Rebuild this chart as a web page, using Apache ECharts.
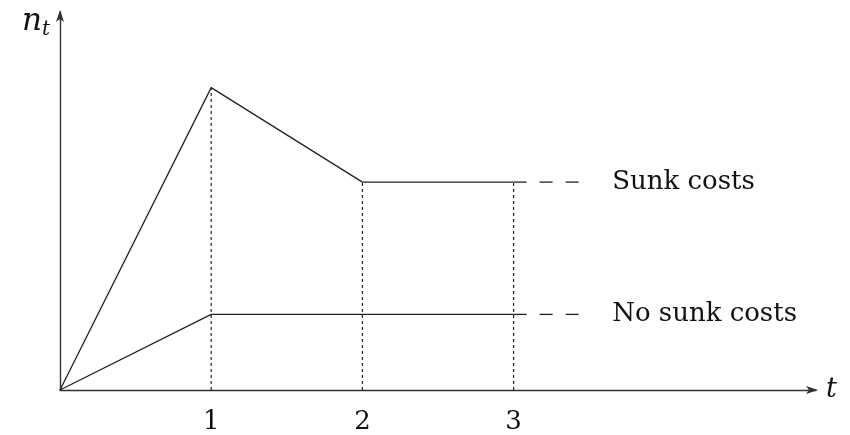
<!DOCTYPE html>
<html><head><meta charset="utf-8">
<script src="https://cdn.jsdelivr.net/npm/echarts@6/dist/echarts.min.js"></script>
<style>html,body{margin:0;padding:0;background:#fff}#c{width:850px;height:435px}</style>
</head><body><div id="c"></div>
<script>
// Data
const tValues = [0, 1, 2, 3];
const sunkCosts = [0, 8, 5.5, 5.5];
const noSunkCosts = [0, 2, 2, 2];
const extendTo = 3.44;          // end of dashed continuation
const tickLabels = ['1', '2', '3'];
const seriesNames = ['Sunk costs', 'No sunk costs'];
const guideTs = [1, 2, 3];
const guideTops = [8, 5.5, 5.5];

const serif = 'DejaVu Serif';
const lineColor = '#222';

function pairs(xs, ys) { return xs.map((x, i) => [x, ys[i]]); }

const series = [];
// vertical dotted guides
guideTs.forEach((t, i) => {
  series.push({
    type: 'line', data: [[t, 0], [t, guideTops[i]]], symbol: 'none', silent: true,
    lineStyle: { color: lineColor, width: 1.2, type: [3, 3] }, z: 1
  });
});
[sunkCosts, noSunkCosts].forEach((ys, k) => {
  series.push({
    type: 'line', name: seriesNames[k], data: pairs(tValues, ys), symbol: 'none',
    lineStyle: { color: lineColor, width: 1.3 }, z: 3
  });
  const last = ys[ys.length - 1];
  series.push({
    type: 'line', data: [[tValues[tValues.length - 1], last], [extendTo, last]], symbol: 'none',
    lineStyle: { color: lineColor, width: 1.3, type: [13, 13] }, z: 3,
    endLabel: {
      show: true, formatter: seriesNames[k], distance: 32,
      fontFamily: serif, fontSize: 26, color: '#111'
    }
  });
});

const chart = echarts.init(document.getElementById('c'));
chart.setOption({
  animation: false,
  backgroundColor: '#fff',
  grid: { left: 60, right: 34, top: 12, bottom: 43, containLabel: false },
  xAxis: {
    type: 'value', min: 0, max: 5, interval: 1,
    splitLine: { show: false }, axisTick: { show: false },
    axisLine: { lineStyle: { color: '#333', width: 1.4 }, symbol: ['none', 'arrow'], symbolSize: [6, 12], symbolOffset: [0, 2] },
    axisLabel: {
      margin: 19, fontFamily: serif, fontSize: 26, color: '#111',
      formatter: v => (v >= 1 && v <= 3 ? tickLabels[v - 1] : '')
    },
    name: 't', nameLocation: 'end', nameGap: 10,
    nameTextStyle: { fontFamily: serif, fontStyle: 'italic', fontSize: 27, color: '#111', verticalAlign: 'middle' }
  },
  yAxis: {
    type: 'value', min: 0, max: 10,
    splitLine: { show: false }, axisTick: { show: false }, axisLabel: { show: false },
    axisLine: { lineStyle: { color: '#333', width: 1.4 }, symbol: ['none', 'arrow'], symbolSize: [6, 12], symbolOffset: [0, 2] },
    name: '{n|n}{t|t}', nameLocation: 'end', nameGap: -10,
    nameTextStyle: {
      align: 'right', verticalAlign: 'middle', padding: [0, 10, 0, 0],
      rich: {
        n: { fontFamily: serif, fontStyle: 'italic', fontSize: 31, color: '#111' },
        t: { fontFamily: serif, fontStyle: 'italic', fontSize: 20, color: '#111', padding: [16, 0, 0, 0] }
      }
    }
  },
  series: series
});
</script></body></html>
